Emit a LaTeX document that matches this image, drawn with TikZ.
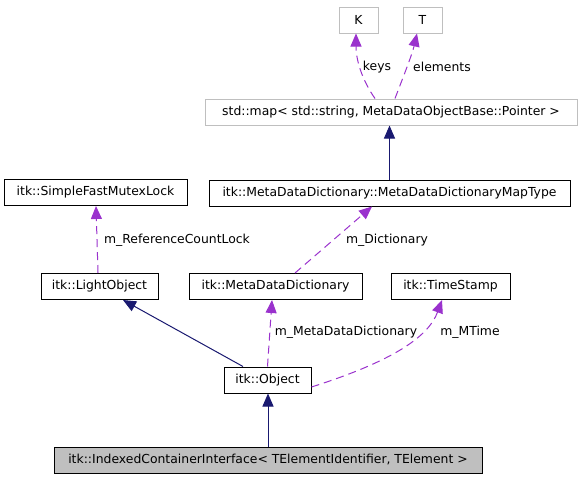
\documentclass[tikz,border=0pt]{standalone}
\usepackage{fontspec}
\setmainfont{DejaVu Sans}
\usetikzlibrary{arrows.meta}
\definecolor{navyedge}{HTML}{191970}
\definecolor{purpedge}{HTML}{9A32CD}
\definecolor{grayline}{HTML}{BFBFBF}
\begin{document}
\begin{tikzpicture}[x=1pt,y=-1pt,
  every node/.style={font=\fontsize{12.4}{14}\selectfont},
  cls/.style={draw=black,line width=1pt,fill=white,inner sep=0pt,minimum height=26pt},
  ext/.style={draw=grayline,line width=1pt,fill=white,inner sep=0pt,minimum height=26pt},
  inh/.style={draw=navyedge,line width=1pt,-{Triangle[length=13pt,width=11pt]},navyedge},
  use/.style={draw=purpedge,line width=1pt,dash pattern=on 8pt off 5pt,-{Triangle[length=13pt,width=11pt]},purpedge},
  lbl/.style={inner sep=0pt,fill=none,draw=none}]
\useasboundingbox (0,0) rectangle (581,480);
\node[ext,minimum width=39pt] (K) at (358.5,20) {K};
\node[ext,minimum width=39pt] (T) at (422.5,20) {T};
\node[ext,minimum width=372pt] (map) at (391,112) {std::map< std::string, MetaDataObjectBase::Pointer >};
\node[cls,minimum width=361pt] (maptype) at (389.5,193) {itk::MetaDataDictionary::MetaDataDictionaryMapType};
\node[cls,minimum width=183pt] (sfml) at (95.5,192.5) {itk::SimpleFastMutexLock};
\node[cls,minimum width=117pt] (light) at (99.5,286.5) {itk::LightObject};
\node[cls,minimum width=173pt] (mdd) at (275.5,286.5) {itk::MetaDataDictionary};
\node[cls,minimum width=119pt] (ts) at (450.5,286.5) {itk::TimeStamp};
\node[cls,minimum width=87pt] (obj) at (267.5,380) {itk::Object};
\node[cls,minimum width=428pt,fill=grayline] (ici) at (268,460) {itk::IndexedContainerInterface< TElementIdentifier, TElement >};

\draw[use] ([xshift=-16pt]map.north) .. controls (362,80) and (356,60) .. ([xshift=-2.5pt]K.south);
\draw[use] ([xshift=4pt]map.north) .. controls (402,80) and (412,55) .. ([xshift=-5.5pt]T.south);
\draw[inh] (maptype.north) -- (maptype.north |- map.south);
\draw[use] ([xshift=-1.5pt]light.north) -- ([xshift=0.5pt]sfml.south);
\draw[use] ([xshift=19.5pt]mdd.north) -- ([xshift=-17.5pt]maptype.south);
\draw[inh] ([xshift=-24.5pt]obj.north) -- ([xshift=23.5pt]light.south);
\draw[use] (obj.north) -- ([xshift=-3.5pt]mdd.south);
\draw[use] ([yshift=-7pt]obj.east) .. controls (390,362) and (428,338) .. ([xshift=-8.5pt]ts.south);
\draw[inh] (ici.north) -- (ici.north |- obj.south);

\node[lbl] (lkeys) at (377,67) {keys};
\node[lbl] (lelem) at (442,67) {elements};
\node[lbl] (lrcl) at (177,240) {m\_ReferenceCountLock};
\node[lbl] (ldict) at (387,240) {m\_Dictionary};
\node[lbl] (lmdd) at (346,332) {m\_MetaDataDictionary};
\node[lbl] (lmt) at (470,332) {m\_MTime};
\end{tikzpicture}
\end{document}
